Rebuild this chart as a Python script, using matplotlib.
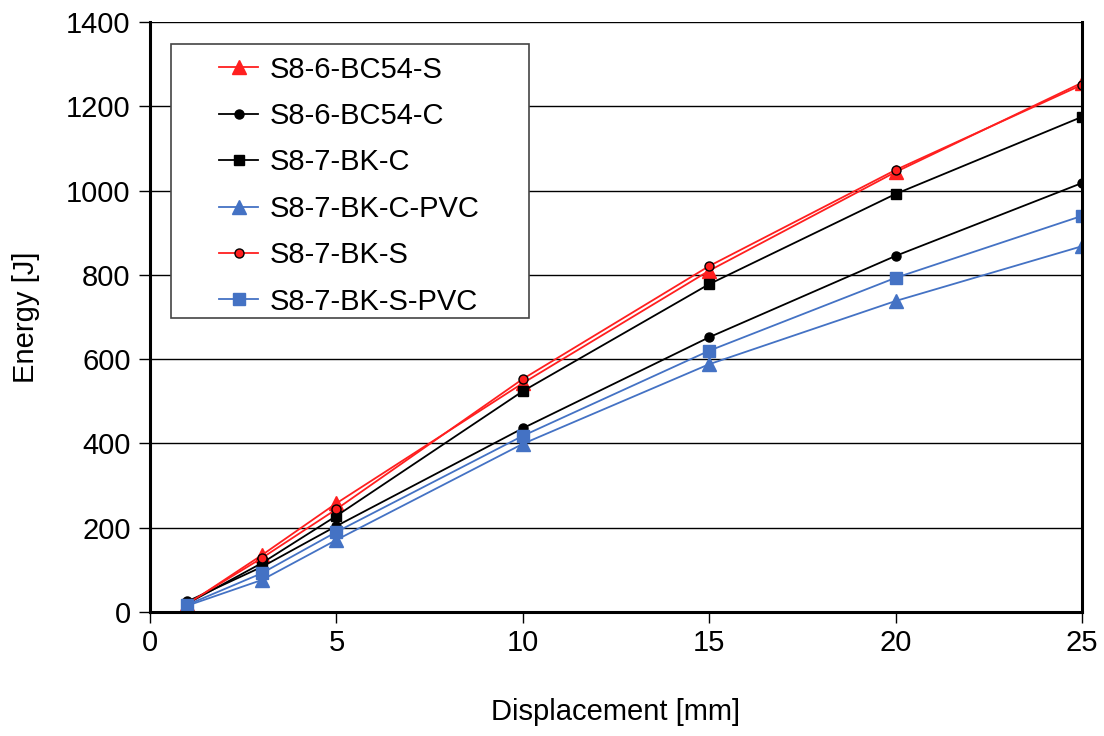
import matplotlib.pyplot as plt
from matplotlib.patches import Rectangle

plt.rcParams["font.family"] = ["Liberation Sans", "DejaVu Sans"]

# displacement [mm] at the measured points
displacement = [1, 3, 5, 10, 15, 20, 25]

# absorbed energy [J]
s8_6_bc54_s = [18, 135, 258, 543, 810, 1044, 1256]
s8_6_bc54_c = [25, 107, 204, 436, 652, 845, 1018]
s8_7_bk_c = [20, 116, 228, 524, 778, 992, 1175]
s8_7_bk_c_pvc = [15, 76, 171, 399, 588, 738, 868]
s8_7_bk_s = [20, 128, 244, 553, 821, 1049, 1251]
s8_7_bk_s_pvc = [17, 92, 190, 418, 620, 793, 940]

RED = "#FF1F1F"
BLUE = "#4472C4"

series = [
    ("S8-6-BC54-S", s8_6_bc54_s, dict(color=RED, marker="^", ms=10, mec=RED)),
    ("S8-6-BC54-C", s8_6_bc54_c, dict(color="black", marker="o", ms=6.5, mec="black")),
    ("S8-7-BK-C", s8_7_bk_c, dict(color="black", marker="s", ms=6.5, mec="black")),
    ("S8-7-BK-C-PVC", s8_7_bk_c_pvc, dict(color=BLUE, marker="^", ms=10, mec=BLUE)),
    ("S8-7-BK-S", s8_7_bk_s, dict(color=RED, marker="o", ms=6.5, mec="black", mew=1.0)),
    ("S8-7-BK-S-PVC", s8_7_bk_s_pvc, dict(color=BLUE, marker="s", ms=8.5, mec=BLUE)),
]

FS = 21

fig = plt.figure(figsize=(11.04, 7.36), dpi=100)
ax = fig.add_axes([0.1359, 0.1685, 0.8441, 0.8015])

for name, vals, style in series:
    ax.plot(displacement, vals, lw=1.3, label=name, **style)

ax.set_xlim(0, 25)
ax.set_ylim(0, 1400)
ax.set_xticks(range(0, 26, 5))
ax.set_yticks(range(0, 1401, 200))
ax.yaxis.grid(True, color="black", lw=1.0)
ax.set_axisbelow(True)

ax.spines["top"].set_visible(False)
for side in ("left", "right", "bottom"):
    ax.spines[side].set_linewidth(2.2)
ax.tick_params(axis="both", direction="out", length=8, width=1.0, labelsize=FS, pad=6)
ax.tick_params(axis="x", pad=4)

ax.set_xlabel("Displacement [mm]", fontsize=FS, labelpad=30)
ax.set_ylabel("Energy [J]", fontsize=FS, labelpad=19)

# legend box drawn separately so the entries can sit well inside it
ax.add_patch(Rectangle((0.0225, 0.4983), 0.3842, 0.4644, transform=ax.transAxes,
                       facecolor="white", edgecolor="#444444", lw=1.2, zorder=4))
leg = ax.legend(loc="upper left", bbox_to_anchor=(0.074, 0.943), fontsize=FS,
                frameon=False, borderpad=0, borderaxespad=0, labelspacing=0.63,
                handlelength=1.35, handletextpad=0.38)
leg.set_zorder(5)

fig.savefig("out.png", dpi=100)
